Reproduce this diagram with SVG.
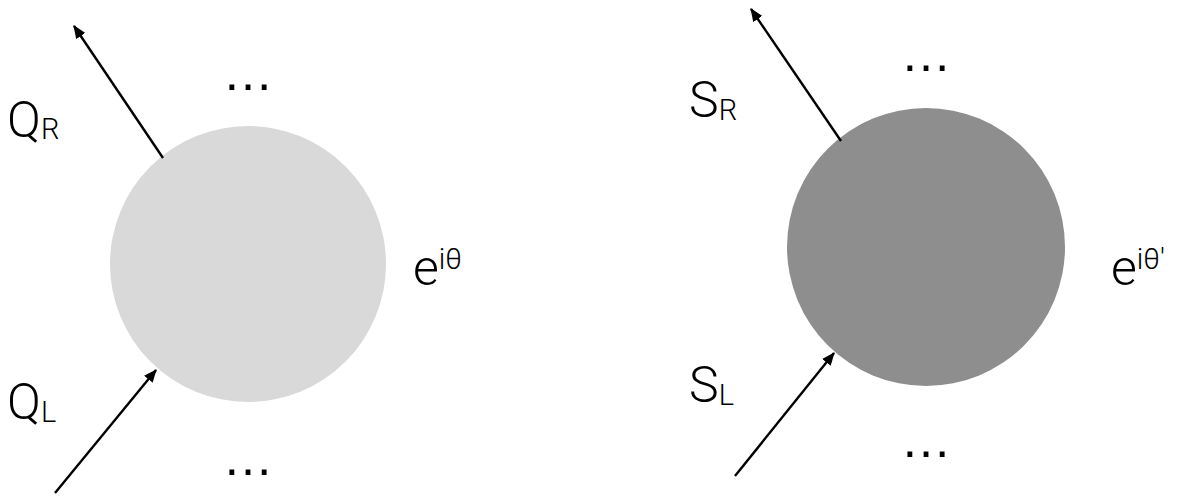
<svg xmlns="http://www.w3.org/2000/svg" width="1187" height="497" viewBox="0 0 1187 497">
<style>
.lbl{font-family:Roboto,"Liberation Sans",sans-serif;font-weight:300;fill:#000}
.big{font-size:50px}
.sub{font-size:29px}
.dots{font-family:"Liberation Sans",sans-serif;font-size:51px;fill:#000;text-anchor:middle}
.arr{stroke:#000;stroke-width:2.4;fill:none;marker-end:url(#ah)}
</style>
<defs>
<marker id="ah" viewBox="0 0 12 10" refX="11" refY="5" markerWidth="5.5" markerHeight="4.6" orient="auto" markerUnits="strokeWidth">
<path d="M0,0 L12,5 L0,10 z" fill="#000"/>
</marker>
</defs>
<g id="node-left">
<circle cx="248" cy="264" r="138" fill="#d9d9d9"/>
</g>
<g id="node-right">
<circle cx="926" cy="247" r="139" fill="#8e8e8e"/>
</g>
<g id="connectors">
<line class="arr" x1="163" y1="158" x2="74" y2="26"/>
<line class="arr" x1="55" y1="493" x2="156" y2="370"/>
<line class="arr" x1="841" y1="141" x2="751" y2="9"/>
<line class="arr" x1="735" y1="476" x2="834" y2="353"/>
</g>
<g id="labels">
<text class="lbl" x="7" y="137"><tspan class="big">Q</tspan><tspan class="sub" dy="2">R</tspan></text>
<text class="lbl" x="7" y="419"><tspan class="big">Q</tspan><tspan class="sub" dy="3">L</tspan></text>
<text class="lbl" x="689" y="117"><tspan class="big">S</tspan><tspan class="sub" dy="3">R</tspan></text>
<text class="lbl" x="689" y="402"><tspan class="big">S</tspan><tspan class="sub" dy="3">L</tspan></text>
<text class="lbl" x="413" y="285"><tspan class="big">e</tspan><tspan class="sub" dy="-16">iθ</tspan></text>
<text class="lbl" x="1111" y="285"><tspan class="big">e</tspan><tspan class="sub" dy="-16">iθ′</tspan></text>
<text class="dots" x="248" y="90">…</text>
<text class="dots" x="248" y="475">…</text>
<text class="dots" x="926" y="71">…</text>
<text class="dots" x="926" y="457">…</text>
</g>
</svg>
